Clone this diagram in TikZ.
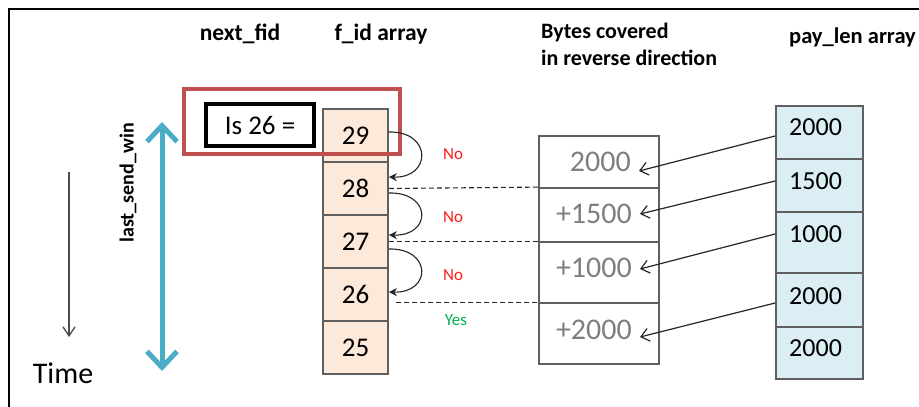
\documentclass[tikz,border=0pt]{standalone}
\usepackage{fontspec}
\setmainfont{Carlito}
\usetikzlibrary{arrows.meta,calc}

\definecolor{peach}{HTML}{FDE9D9}
\definecolor{paleblue}{HTML}{DAEEF3}
\definecolor{winblue}{HTML}{4BACC6}
\definecolor{boxred}{HTML}{C0504D}
\definecolor{bytegray}{HTML}{7F7F7F}
\definecolor{cellline}{HTML}{5F5F5F}
\definecolor{yesgreen}{HTML}{00B050}
\definecolor{nored}{HTML}{FF1A1A}

\newcommand{\fsz}[1]{\fontsize{#1}{#1}\selectfont}

\tikzset{
  header/.style={font=\bfseries\fsz{23.5}, inner sep=0pt},
  fidcell/.style={draw=cellline, line width=1.8pt, fill=peach, minimum width=65pt,
    inner sep=0pt, font=\fsz{27}},
  bytecell/.style={draw=cellline, line width=1.8pt, fill=white, minimum width=120pt, inner sep=0pt},
  bytetext/.style={anchor=east, inner sep=0pt, text=bytegray, font=\fsz{30}},
  paycell/.style={draw=cellline, line width=1.8pt, fill=paleblue, minimum width=87pt, inner sep=0pt},
  paytext/.style={anchor=west, inner sep=0pt, font=\fsz{26}},
  verdict/.style={inner sep=0pt, font=\fsz{17}},
  hop/.style={-{Stealth[length=8pt,width=8pt]}, line width=1.1pt, black!85},
  guide/.style={dash pattern=on 5pt off 3pt, line width=1.1pt, black!85},
  feed/.style={-{Straight Barb[length=8pt,width=13pt]}, line width=1.2pt, black!85},
}

\begin{document}
\begin{tikzpicture}[x=1pt,y=-1pt]
\useasboundingbox (0,0) rectangle (919,407);
\fill[white] (0,0) rectangle (919,407);

% outer frame
\draw[line width=2.2pt] (9,425) -- (9,9) -- (935,9);

% column headings
\node[header] (hnext) at (240,34) {next\_fid};
\node[header] (hfid) at (381,34) {f\_id array};
\node[header, anchor=west, font=\bfseries\fsz{22}] (hbytes1) at (541,33) {Bytes covered};
\node[header, anchor=west, font=\bfseries\fsz{22}] (hbytes2) at (541,58) {in reverse direction};
\node[header, anchor=west, font=\bfseries\fsz{22.5}] (hpay) at (789,37) {pay\_len array};

% time axis
\node[inner sep=0pt, font=\fsz{30}] (time) at (63,373) {Time};
\coordinate (tstart) at (69,172);
\coordinate (tend) at (69,337);
\draw[-{Straight Barb[length=9pt,width=12pt]}, line width=1.3pt, black!70] (tstart) -- (tend);

% send window
\coordinate (wtop) at (162,122);
\coordinate (wbot) at (162,371);
\draw[{Straight Barb[length=16pt,width=30pt]}-{Straight Barb[length=16pt,width=30pt]},
  line width=5pt, winblue, line cap=round] (wtop) -- (wbot);
\node[rotate=90, inner sep=0pt, font=\bfseries\fsz{20}] (win) at (128,183) {last\_send\_win};

% f_id array
\node[fidcell, minimum height=53pt] (f29) at (355.5,135.5) {29};
\node[fidcell, minimum height=53pt] (f28) at (355.5,188.5) {28};
\node[fidcell, minimum height=53pt] (f27) at (355.5,241.5) {27};
\node[fidcell, minimum height=53pt] (f26) at (355.5,294.5) {26};
\node[fidcell, minimum height=53pt] (f25) at (355.5,347.5) {25};

% query box and highlight
\node[draw, line width=3.2pt, minimum width=108pt, minimum height=42pt, inner sep=0pt,
  font=\fsz{27}] (query) at (260,125) {Is 26 =};
\node[draw=boxred, line width=3.2pt, minimum width=216pt, minimum height=65pt, inner sep=0pt]
  (focus) at (292,121.5) {};

% hops down the f_id array
\draw[hop] ([yshift=3.5pt]f29.east) .. controls +(43,-1) and +(43,1) .. ([yshift=11.5pt]f28.east);
\draw[hop] ([yshift=-4.5pt]f28.east) .. controls +(43,-1) and +(43,1) .. ([yshift=6.5pt]f27.east);
\draw[hop] ([yshift=-7.5pt]f27.east) .. controls +(43,-1) and +(43,1) .. ([yshift=2.5pt]f26.east);

\node[verdict, text=nored] (no1) at (453,154) {No};
\node[verdict, text=nored] (no2) at (453,217) {No};
\node[verdict, text=nored] (no3) at (453,275) {No};
\node[verdict, text=yesgreen] (yes) at (456,320) {Yes};

% bytes covered
\node[bytecell, minimum height=52pt] (b1) at (599,162) {};
\node[bytecell, minimum height=54pt] (b2) at (599,215) {};
\node[bytecell, minimum height=61pt] (b3) at (599,272.5) {};
\node[bytecell, minimum height=61pt] (b4) at (599,333.5) {};
\node[bytetext] (t1) at (631,162) {2000};
\node[bytetext] (t2) at (632,214) {+1500};
\node[bytetext] (t3) at (632,268) {+1000};
\node[bytetext] (t4) at (632,330) {+2000};

% cell boundaries carried across
\draw[guide] (f28.east) -- (b2.north west);
\draw[guide] (f27.east |- b3.north west) -- (b3.north west);
\draw[guide] ([xshift=7pt]f26.east |- b4.north west) -- (b4.north west);

% pay_len array
\node[paycell, minimum height=53pt] (p1) at (819.5,132.5) {};
\node[paycell, minimum height=53pt] (p2) at (819.5,185.5) {};
\node[paycell, minimum height=61pt] (p3) at (819.5,242.5) {};
\node[paycell, minimum height=54pt] (p4) at (819.5,300) {};
\node[paycell, minimum height=52pt] (p5) at (819.5,353) {};
\node[paytext] (v1) at (789,127) {2000};
\node[paytext] (v2) at (789,181) {1500};
\node[paytext] (v3) at (789,234) {1000};
\node[paytext] (v4) at (789,296) {2000};
\node[paytext] (v5) at (789,348) {2000};

% lengths fed into the byte count
\draw[feed] ([yshift=-3.5pt]p1.west) -- ([xshift=8pt,yshift=-9pt]t1.east);
\draw[feed] ([yshift=4.5pt]p2.west) -- ([xshift=8pt]t2.east);
\draw[feed] ([yshift=8.5pt]p3.west) -- ([xshift=8pt,yshift=-1pt]t3.east);
\draw[feed] ([yshift=-3pt]p4.west) -- ([xshift=8pt,yshift=-7pt]t4.east);
\end{tikzpicture}
\end{document}
